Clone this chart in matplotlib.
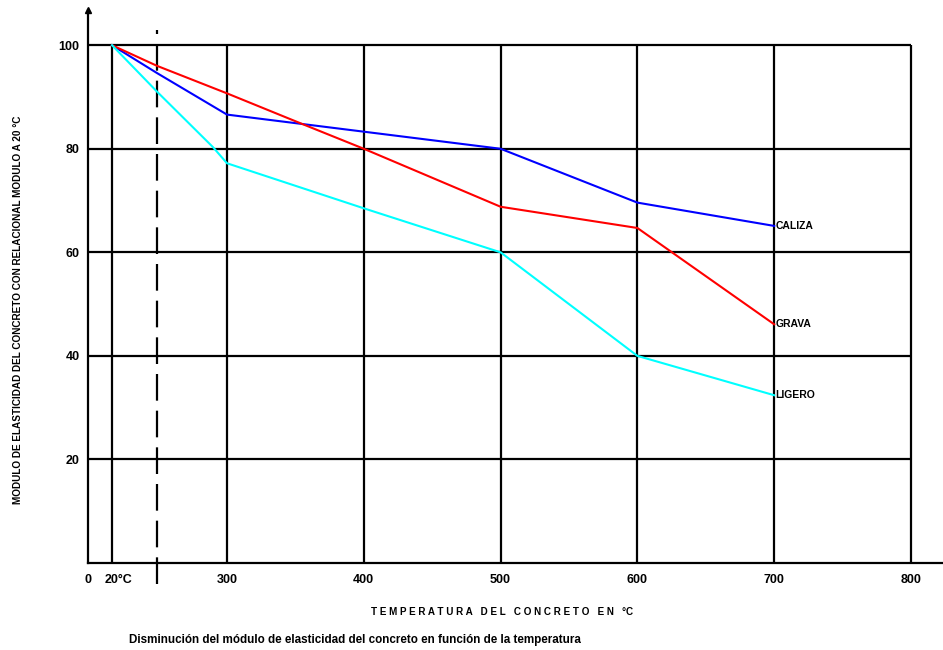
import numpy as np
import matplotlib
matplotlib.use('Agg')
import matplotlib.pyplot as plt
from matplotlib.transforms import ScaledTranslation

plt.rcParams['font.family'] = ['Liberation Sans', 'DejaVu Sans']
plt.rcParams['font.weight'] = 'bold'

# Data (temperature in C, modulus ratio in %)
temp_caliza = [20, 130, 300, 400, 500, 600, 700]
caliza = [100, 94.6, 86.6, 83.3, 80.0, 69.6, 65.1]

temp_grava = [20, 130, 300, 353, 400, 500, 600, 700]
grava = [100, 96.0, 90.7, 85.0, 80.0, 68.8, 64.7, 46.1]

temp_ligero = [20, 130, 266, 300, 400, 500, 600, 700]
ligero = [100, 91.0, 80.3, 77.2, 68.5, 60.0, 40.0, 32.4]

x_ticks = [0, 20, 300, 400, 500, 600, 700, 800]
x_labels = ['0', '20°C', '300', '400', '500', '600', '700', '800']
y_ticks = [20, 40, 60, 80, 100]

# broken temperature axis: 0-20 and 20-300 are compressed
knots_t = [0, 20, 300, 830]
knots_p = [0, 24, 139, 864]


def fwd(t):
    return np.interp(t, knots_t, knots_p)


def inv(p):
    return np.interp(p, knots_p, knots_t)


fig = plt.figure(figsize=(9.43, 6.5), dpi=100)
ax = fig.add_axes([88 / 943, 87 / 650, 855 / 943, 553 / 650])
ax.set_xscale('function', functions=(fwd, inv))
ax.set_xlim(0, 823.4)
ax.set_ylim(0, 106.8)

# grid
ax.hlines(y_ticks, 0, 800, color='black', lw=1.6, zorder=1)
ax.vlines(x_ticks[1:], 0, 100, color='black', lw=1.6, zorder=1)
ax.vlines(130, -4.0, 103.0, color='black', lw=1.6, linestyles=(0, (12, 4.5)),
          clip_on=False, zorder=1)

# curves
ax.plot(temp_caliza, caliza, color='#0000ff', lw=1.5, zorder=3)
ax.plot(temp_grava, grava, color='#ff0000', lw=1.5, zorder=3)
ax.plot(temp_ligero, ligero, color='#00ffff', lw=1.5, zorder=3)

ax.text(701, caliza[-1], 'CALIZA', fontsize=7.5, va='center', ha='left')
ax.text(701, grava[-1], 'GRAVA', fontsize=7.5, va='center', ha='left')
ax.text(701, ligero[-1], 'LIGERO', fontsize=7.5, va='center', ha='left')

# axes
for s in ['top', 'right']:
    ax.spines[s].set_visible(False)
ax.spines['left'].set_linewidth(1.6)
ax.spines['bottom'].set_linewidth(1.6)
ax.plot([0], [106.8], marker='^', color='black', ms=4, clip_on=False)

ax.set_xticks(x_ticks)
ax.set_xticklabels(x_labels)
ax.set_yticks(y_ticks)
ax.tick_params(length=0, labelsize=9)
ax.tick_params(axis='x', pad=8)
ax.tick_params(axis='y', pad=6)
ax.xaxis.set_minor_locator(matplotlib.ticker.NullLocator())
lbl = ax.get_xticklabels()[1]
lbl.set_transform(lbl.get_transform() + ScaledTranslation(0.06, 0, fig.dpi_scale_trans))

fig.text(502 / 943, 1 - 612 / 650, 'T E M P E R A T U R A   D E L   C O N C R E T O   E N   °C',
         fontsize=7.1, ha='center', va='center')
fig.text(355 / 943, 1 - 640 / 650,
         'Disminución del módulo de elasticidad del concreto en función de la temperatura',
         fontsize=8.4, ha='center', va='center')
fig.text(18 / 943, 1 - 310 / 650,
         'MODULO DE ELASTICIDAD DEL CONCRETO CON RELACIONAL MODULO A 20 °C',
         fontsize=7.2, ha='center', va='center', rotation=90)

fig.savefig('out.png', dpi=100)
